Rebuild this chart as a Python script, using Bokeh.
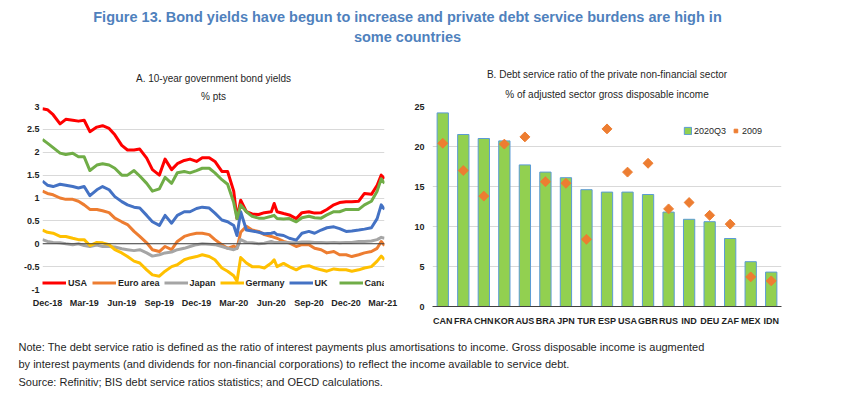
import numpy as np
import pandas as pd
from bokeh.plotting import figure
from bokeh.models import (Range1d, FactorRange, Legend, LegendItem, FixedTicker, Title, Span,
                          DatetimeTickFormatter, NumeralTickFormatter, Label)
from bokeh.layouts import column, row
from bokeh.embed import file_html
from bokeh.resources import INLINE

# ---------------- data ----------------
dates = ["2018-11-19", "2018-12-01", "2018-12-15", "2019-01-01", "2019-01-15", "2019-02-01", "2019-02-15",
         "2019-03-01", "2019-03-15", "2019-04-01", "2019-04-15", "2019-05-01", "2019-05-15", "2019-06-01",
         "2019-06-15", "2019-07-01", "2019-07-15", "2019-08-01", "2019-08-15", "2019-09-01", "2019-09-15",
         "2019-10-01", "2019-10-15", "2019-11-01", "2019-11-15", "2019-12-01", "2019-12-15", "2020-01-01",
         "2020-01-15", "2020-02-01", "2020-02-15", "2020-03-01", "2020-03-09", "2020-03-18", "2020-04-01",
         "2020-04-15", "2020-05-01", "2020-05-15", "2020-06-01", "2020-06-08", "2020-06-15", "2020-07-01",
         "2020-07-15", "2020-08-01", "2020-08-15", "2020-09-01", "2020-09-15", "2020-10-01", "2020-10-15",
         "2020-11-01", "2020-11-15", "2020-12-01", "2020-12-15", "2021-01-01", "2021-01-15", "2021-02-01",
         "2021-02-15", "2021-02-25", "2021-03-05"]

usa = [2.95, 2.93, 2.82, 2.62, 2.72, 2.70, 2.68, 2.70, 2.45, 2.55,
       2.58, 2.52, 2.38, 2.15, 2.05, 2.05, 2.07, 1.87, 1.62, 1.50,
       1.85, 1.62, 1.75, 1.82, 1.85, 1.80, 1.88, 1.88, 1.80, 1.58,
       1.58, 1.15, 0.55, 0.95, 0.70, 0.65, 0.64, 0.68, 0.70, 0.88,
       0.70, 0.66, 0.63, 0.55, 0.68, 0.70, 0.67, 0.68, 0.75, 0.85,
       0.90, 0.92, 0.92, 0.93, 1.10, 1.08, 1.28, 1.50, 1.42]
euro_area = [1.15, 1.10, 1.07, 1.00, 0.97, 0.97, 0.93, 0.85, 0.75, 0.75,
             0.72, 0.68, 0.56, 0.48, 0.42, 0.27, 0.16, 0.02, -0.13, -0.17,
             -0.06, -0.13, 0.05, 0.16, 0.20, 0.23, 0.23, 0.20, 0.09, -0.02,
             -0.10, -0.05, -0.10, 0.25, 0.38, 0.30, 0.27, 0.20, 0.16, 0.14,
             0.12, 0.05, 0.02, -0.06, -0.02, -0.02, -0.10, -0.13, -0.20, -0.17,
             -0.24, -0.24, -0.28, -0.24, -0.20, -0.17, -0.10, 0.05, -0.04]
japan = [0.09, 0.05, 0.03, 0.02, 0.00, -0.02, 0.00, -0.04, -0.06, -0.03,
         -0.06, -0.06, -0.07, -0.11, -0.13, -0.15, -0.13, -0.20, -0.27, -0.24,
         -0.20, -0.18, -0.13, -0.10, -0.06, -0.02, 0.00, -0.01, -0.02, -0.06,
         -0.10, -0.13, -0.10, 0.09, 0.03, 0.02, 0.00, 0.01, 0.05, 0.03,
         0.03, 0.03, 0.02, 0.02, 0.04, 0.04, 0.03, 0.03, 0.02, 0.03,
         0.02, 0.03, 0.03, 0.05, 0.05, 0.06, 0.09, 0.14, 0.12]
germany = [0.30, 0.25, 0.23, 0.16, 0.16, 0.12, 0.09, 0.09, -0.04, 0.03,
           0.02, -0.02, -0.13, -0.20, -0.28, -0.38, -0.42, -0.57, -0.68, -0.71,
           -0.60, -0.50, -0.46, -0.35, -0.31, -0.28, -0.24, -0.28, -0.35, -0.53,
           -0.60, -0.70, -0.82, -0.30, -0.42, -0.50, -0.50, -0.53, -0.42, -0.35,
           -0.50, -0.43, -0.50, -0.57, -0.50, -0.48, -0.53, -0.57, -0.60, -0.55,
           -0.57, -0.57, -0.60, -0.57, -0.53, -0.50, -0.38, -0.27, -0.35]
uk = [1.37, 1.28, 1.25, 1.30, 1.28, 1.25, 1.22, 1.25, 1.05, 1.18,
      1.25, 1.18, 1.03, 0.92, 0.85, 0.80, 0.78, 0.62, 0.48, 0.40,
      0.62, 0.45, 0.62, 0.70, 0.70, 0.77, 0.80, 0.78, 0.67, 0.52,
      0.48, 0.40, 0.18, 0.70, 0.30, 0.28, 0.25, 0.22, 0.23, 0.25,
      0.20, 0.18, 0.12, 0.08, 0.23, 0.27, 0.23, 0.30, 0.35, 0.37,
      0.33, 0.27, 0.28, 0.30, 0.32, 0.35, 0.55, 0.85, 0.75]
canada = [2.28, 2.20, 2.10, 1.98, 1.95, 1.98, 1.90, 1.90, 1.60, 1.72,
          1.75, 1.72, 1.65, 1.50, 1.50, 1.60, 1.48, 1.32, 1.15, 1.20,
          1.45, 1.32, 1.55, 1.58, 1.55, 1.60, 1.65, 1.65, 1.55, 1.40,
          1.30, 0.90, 0.55, 0.85, 0.70, 0.60, 0.56, 0.56, 0.60, 0.62,
          0.55, 0.54, 0.55, 0.48, 0.57, 0.60, 0.57, 0.56, 0.63, 0.70,
          0.70, 0.75, 0.75, 0.75, 0.85, 0.93, 1.15, 1.42, 1.32]

series_names = ["USA", "Euro area", "Japan", "Germany", "UK", "Canada"]
series_values = [usa, euro_area, japan, germany, uk, canada]
series_colors = ["#FF0000", "#ED7D31", "#A5A5A5", "#FFC000", "#4472C4", "#70AD47"]

x_tick_labels_a = ["Dec-18", "Mar-19", "Jun-19", "Sep-19", "Dec-19", "Mar-20",
                   "Jun-20", "Sep-20", "Dec-20", "Mar-21"]
y_ticks_a = [-1, -0.5, 0, 0.5, 1, 1.5, 2, 2.5, 3]

countries = ["CAN", "FRA", "CHN", "KOR", "AUS", "BRA", "JPN", "TUR", "ESP",
             "USA", "GBR", "RUS", "IND", "DEU", "ZAF", "MEX", "IDN"]
dsr_2020q3 = [24.2, 21.5, 21.0, 20.7, 17.7, 16.8, 16.1, 14.6, 14.3,
              14.3, 14.0, 11.8, 10.9, 10.6, 8.5, 5.6, 4.3]
dsr_2009 = [20.4, 17.0, 13.8, 20.3, 21.2, 15.6, 15.4, 8.4, 22.2,
            16.8, 17.9, 12.2, 13.0, 11.4, 10.3, 3.7, 3.2]
y_ticks_b = [0, 5, 10, 15, 20, 25]

title_lines = ["Figure 13. Bond yields have begun to increase and private debt service burdens are high in",
               "some countries"]
note_lines = ["Note: The debt service ratio is defined as the ratio of interest payments plus amortisations to income. Gross disposable income is augmented",
              "by interest payments (and dividends for non-financial corporations) to reflect the income available to service debt.",
              "Source: Refinitiv; BIS debt service ratios statistics; and OECD calculations."]

# ---------------- styles ----------------
FONT = "Liberation Sans"
TXT = "#1f1f1f"
GRID = "#D9D9D9"


def style_title(t, size="10px"):
    t.align = "center"
    t.text_font = FONT
    t.text_font_size = size
    t.text_font_style = "normal"
    t.text_color = TXT


def style_ticks(ax, size="9px"):
    ax.major_label_text_font = FONT
    ax.major_label_text_font_size = size
    ax.major_label_text_font_style = "bold"
    ax.major_label_text_color = TXT
    ax.major_tick_line_color = None
    ax.minor_tick_line_color = None
    ax.major_tick_out = 0
    ax.major_tick_in = 0
    ax.minor_tick_out = 0
    ax.minor_tick_in = 0


# ---------------- title figure ----------------
tf = figure(width=826, height=58, x_range=Range1d(0, 826), y_range=Range1d(0, 58),
            x_axis_type=None, y_axis_type=None, min_border=0, outline_line_color=None,
            toolbar_location=None, output_backend="svg")
tf.grid.visible = False
for i, t in enumerate(title_lines):
    tf.add_layout(Label(x=407, y=42 - 20 * i, text=t, text_align="center", text_baseline="middle",
                        text_font=FONT, text_font_size="14.5px", text_font_style="bold",
                        text_color="#4F81BD"))

# ---------------- panel A ----------------
dts = pd.to_datetime(dates)
tick_dates = pd.to_datetime(x_tick_labels_a, format="%b-%y")
tick_ms = [t.timestamp() * 1000 for t in tick_dates]

pa = figure(frame_width=342, frame_height=183, x_axis_type="datetime",
            x_range=Range1d(pd.Timestamp("2018-11-19"), pd.Timestamp("2021-03-05")),
            y_range=Range1d(-1, 3), output_backend="svg", toolbar_location=None,
            min_border_left=42, min_border_right=27, min_border_top=41, min_border_bottom=48,
            outline_line_color=None, title="A. 10-year government bond yields")
style_title(pa.title)
pa.title.standoff = 0
sa = Title(text="% pts")
style_title(sa)
sa.standoff = 10
pa.add_layout(sa, "above")

pa.xgrid.visible = False
pa.ygrid.ticker = FixedTicker(ticks=y_ticks_a)
pa.ygrid.grid_line_color = GRID

pa.yaxis.ticker = FixedTicker(ticks=y_ticks_a)
pa.yaxis.formatter = NumeralTickFormatter(format="0.[0]")
pa.yaxis.axis_line_color = None
pa.yaxis.major_label_text_align = "left"
pa.yaxis.major_label_standoff = 3

fmt = "%b-%y"
pa.xaxis.ticker = FixedTicker(ticks=tick_ms)
pa.xaxis.formatter = DatetimeTickFormatter(microseconds=fmt, milliseconds=fmt, seconds=fmt, minsec=fmt,
                                           minutes=fmt, hourmin=fmt, hours=fmt, days=fmt, months=fmt, years=fmt)
pa.xaxis.axis_line_color = None
pa.xaxis.major_label_standoff = 8
style_ticks(pa.xaxis)
style_ticks(pa.yaxis)

pa.add_layout(Span(location=0, dimension="width", line_color="#404040", line_width=1))

items = []
for name, vals, col in zip(series_names, series_values, series_colors):
    r = pa.line(dts, vals, line_color=col, line_width=3, line_join="round")
    items.append(LegendItem(label=name, renderers=[r]))

leg_a = Legend(items=items, orientation="horizontal", location=(0, 1),
               border_line_color=None, background_fill_alpha=0,
               label_text_font=FONT, label_text_font_size="9px", label_text_font_style="bold",
               label_text_color=TXT, glyph_width=24, glyph_height=11, label_height=11,
               label_standoff=2, spacing=4, padding=0, margin=0)
pa.add_layout(leg_a)

# ---------------- panel B ----------------
pb = figure(frame_width=349, frame_height=200, x_range=FactorRange(*countries), y_range=Range1d(0, 25),
            output_backend="svg", toolbar_location=None,
            min_border_left=21, min_border_right=10, min_border_top=48, min_border_bottom=27,
            outline_line_color=None, title="B. Debt service ratio of the private non-financial sector")
style_title(pb.title)
pb.title.standoff = 0
sb = Title(text="% of adjusted sector gross disposable income")
style_title(sb)
sb.standoff = 14
pb.add_layout(sb, "above")

pb.xgrid.visible = False
pb.ygrid.ticker = FixedTicker(ticks=y_ticks_b)
pb.ygrid.grid_line_color = GRID

bars = pb.vbar(x=countries, top=dsr_2020q3, width=0.55, fill_color="#92D050",
               line_color="#5B9BD5", line_width=1)
dots = pb.scatter(x=countries, y=dsr_2009, marker="square", angle=np.pi / 4, size=7,
                  fill_color="#ED7D31", line_color="#ED7D31")

pb.yaxis.ticker = FixedTicker(ticks=y_ticks_b)
pb.yaxis.axis_line_color = None
pb.yaxis.major_label_standoff = 8

pb.xaxis.axis_line_color = "#404040"
pb.xaxis.major_label_standoff = 9
style_ticks(pb.xaxis)
style_ticks(pb.yaxis)

leg_b = Legend(items=[LegendItem(label="2020Q3", renderers=[bars]),
                      LegendItem(label="2009", renderers=[dots])],
               orientation="horizontal", location="top_right",
               border_line_color=None, background_fill_alpha=0,
               label_text_font=FONT, label_text_font_size="9px", label_text_color=TXT,
               glyph_width=9, glyph_height=9, label_height=11,
               label_standoff=2, spacing=5, padding=0, margin=19)
pb.add_layout(leg_b)

# ---------------- notes figure ----------------
nf = figure(width=826, height=56, x_range=Range1d(0, 826), y_range=Range1d(0, 56),
            x_axis_type=None, y_axis_type=None, min_border=0, outline_line_color=None,
            toolbar_location=None, output_backend="svg")
nf.grid.visible = False
for i, t in enumerate(note_lines):
    nf.add_layout(Label(x=18, y=43 - 17.5 * i, text=t, text_align="left", text_baseline="middle",
                        text_font=FONT, text_font_size="11px", text_color=TXT))

layout = column(tf, row(pa, pb), nf)

open("out.html", "w").write(file_html(layout, INLINE))
